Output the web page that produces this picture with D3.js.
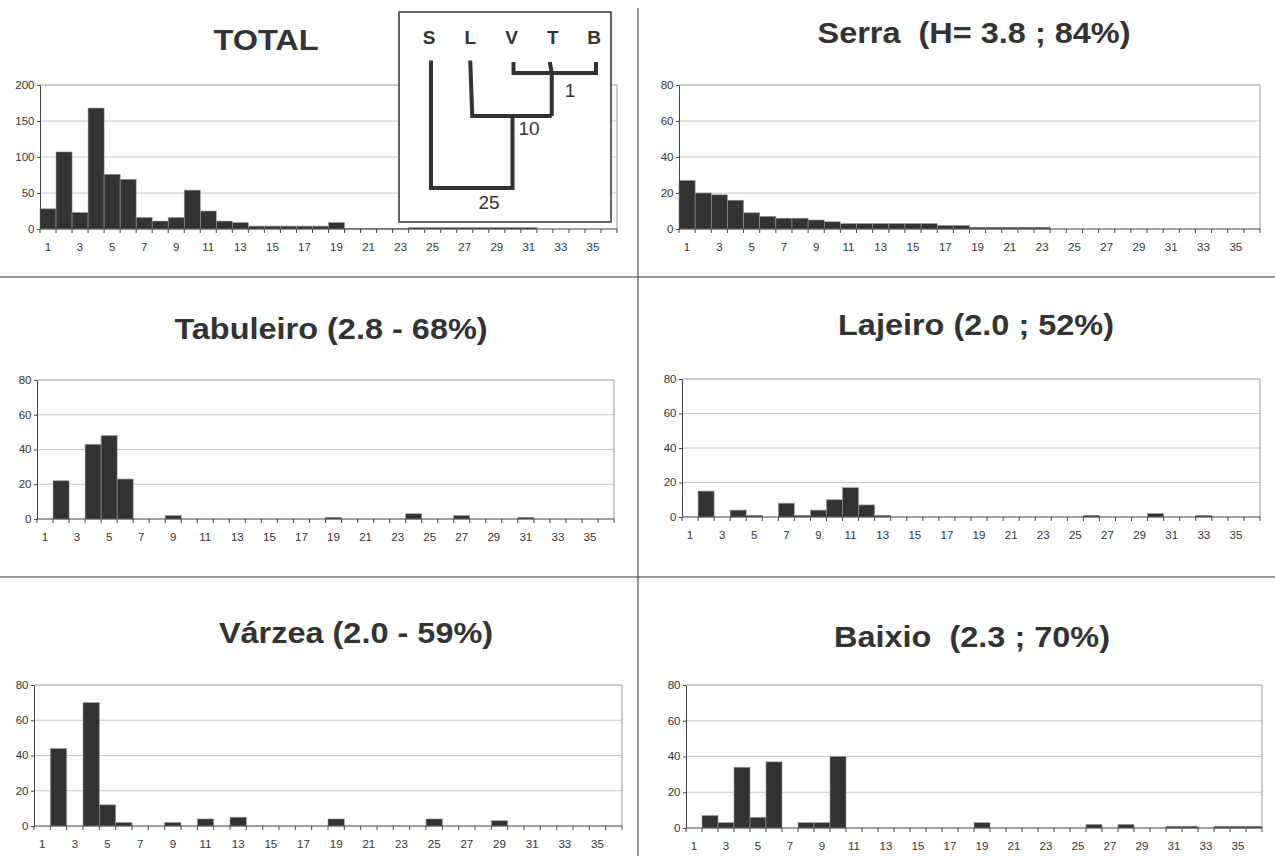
<!DOCTYPE html>
<html>
<head>
<meta charset="utf-8">
<script src="https://cdn.jsdelivr.net/npm/d3@7"></script>
<style>
  body { margin: 0; background: #fff; }
  svg { display: block; }
  text { font-family: "Liberation Sans", Arial, sans-serif; fill: #333; }
</style>
</head>
<body>
<div id="chart"></div>
<script>
// number of classes on the x axis
const classes = [1,2,3,4,5,6,7,8,9,10,11,12,13,14,15,16,17,18,19,20,21,22,23,24,25,26,27,28,29,30,31,32,33,34,35,36];
const xTickLabels = [1,3,5,7,9,11,13,15,17,19,21,23,25,27,29,31,33,35];
const yTicksTotal = [0,50,100,150,200];
const yTicksZone = [0,20,40,60,80];

const total     = [28,107,23,168,76,69,16,11,16,54,25,11,9,4,4,4,4,4,9,1,1,1,1,2,2,2,2,2,2,2,2,0,0,0,0,0];
const serra     = [27,20,19,16,9,7,6,6,5,4,3,3,3,3,3,3,2,2,1,1,1,1,1,0,0,0,0,0,0,0,0,0,0,0,0,0];
const tabuleiro = [0,22,0,43,48,23,0,0,2,0,0,0,0,0,0,0,0,0,1,0,0,0,0,3,0,0,2,0,0,0,1,0,0,0,0,0];
const lajeiro   = [0,15,0,4,1,0,8,1,4,10,17,7,1,0,0,0,0,0,0,0,0,0,0,0,0,1,0,0,0,2,0,0,1,0,0,0];
const varzea    = [0,44,0,70,12,2,0,0,2,0,4,0,5,0,0,0,0,0,4,0,0,0,0,0,4,0,0,0,3,0,0,0,0,0,0,0];
const baixio    = [0,7,3,34,6,37,0,3,3,40,0,0,0,0,0,0,0,0,3,0,0,0,0,0,0,2,0,2,0,0,1,1,0,1,1,1];

// dendrogram of the five zones (inset)
const zones = ['S','L','V','T','B'];
const joinLabels = ['1','10','25'];

const W = 1275, H = 856;
const svg = d3.select('#chart').append('svg').attr('width', W).attr('height', H);

const panels = [
  { title: 'TOTAL', values: total, ticks: yTicksTotal, box: [40, 85, 617, 229], tx: 266, ty: 50 },
  { title: 'Serra  (H= 3.8 ; 84%)', values: serra, ticks: yTicksZone, box: [679, 85, 1260, 229], tx: 974, ty: 43 },
  { title: 'Tabuleiro (2.8 - 68%)', values: tabuleiro, ticks: yTicksZone, box: [37, 380, 614, 519], tx: 331, ty: 339 },
  { title: 'Lajeiro (2.0 ; 52%)', values: lajeiro, ticks: yTicksZone, box: [682, 379, 1260, 517], tx: 976, ty: 335 },
  { title: 'Várzea (2.0 - 59%)', values: varzea, ticks: yTicksZone, box: [34, 685, 622, 826], tx: 356, ty: 643 },
  { title: 'Baixio  (2.3 ; 70%)', values: baixio, ticks: yTicksZone, box: [686, 685, 1262, 828], tx: 972, ty: 647 }
];

panels.forEach(drawPanel);

function drawPanel(p) {
  const [x0, y0, x1, y1] = p.box;
  const g = svg.append('g');

  const x = d3.scaleBand().domain(classes).range([x0, x1]).padding(0);
  const y = d3.scaleLinear().domain([0, p.ticks[p.ticks.length - 1]]).range([y1, y0]);

  // gridlines
  g.selectAll('.grid').data(p.ticks.slice(1, -1)).enter().append('line')
    .attr('x1', x0).attr('x2', x1)
    .attr('y1', d => y(d)).attr('y2', d => y(d))
    .attr('stroke', '#c8c8c8').attr('stroke-width', 1);

  // plot frame (top + right)
  g.append('path')
    .attr('d', `M${x0},${y0}H${x1}V${y1}`)
    .attr('fill', 'none').attr('stroke', '#999').attr('stroke-width', 1);

  // bars
  g.selectAll('.bar').data(p.values).enter().append('rect')
    .attr('x', (d, i) => x(classes[i]))
    .attr('y', d => y(d))
    .attr('width', x.bandwidth())
    .attr('height', d => y1 - y(d))
    .attr('fill', '#333')
    .attr('stroke', '#9a9a9a').attr('stroke-width', 0.6);

  // y axis
  const ya = g.append('g').attr('transform', `translate(${x0},0)`)
    .call(d3.axisLeft(y).tickValues(p.ticks).tickSize(3).tickPadding(2).tickSizeOuter(0));
  ya.select('.domain').attr('stroke', '#444');
  ya.selectAll('.tick line').attr('stroke', '#444');
  ya.selectAll('text').attr('font-size', 10.5).attr('font-family', '"Liberation Sans", Arial, sans-serif')
    .attr('fill', '#333').attr('transform', 'scale(1.1,1)');

  // x axis: line, ticks between classes, labels every second class
  g.append('line').attr('x1', x0).attr('x2', x1).attr('y1', y1).attr('y2', y1)
    .attr('stroke', '#444').attr('stroke-width', 1.2);
  g.selectAll('.xt').data(classes.concat(['end'])).enter().append('line')
    .attr('x1', d => d === 'end' ? x1 : x(d)).attr('x2', d => d === 'end' ? x1 : x(d))
    .attr('y1', y1).attr('y2', y1 + 4)
    .attr('stroke', '#444');
  g.selectAll('.xl').data(xTickLabels).enter().append('text')
    .attr('transform', d => `translate(${x(d) + x.bandwidth() / 2},${y1 + 22}) scale(1.1,1)`)
    .attr('text-anchor', 'middle')
    .attr('font-size', 10.5)
    .text(d => d);

  // title
  svg.append('text')
    .attr('transform', `translate(${p.tx},${p.ty}) scale(1.12,1)`)
    .attr('text-anchor', 'middle')
    .style('white-space', 'pre')
    .attr('font-size', 29).attr('font-weight', 'bold')
    .text(p.title);
}

// separators between the panels
svg.append('line').attr('x1', 638).attr('x2', 638).attr('y1', 8).attr('y2', H).attr('stroke', '#333');
[277, 577].forEach(yy => svg.append('line').attr('x1', 0).attr('x2', W).attr('y1', yy).attr('y2', yy).attr('stroke', '#333'));

// inset with the dendrogram
const inset = svg.append('g');
inset.append('rect').attr('x', 399).attr('y', 12).attr('width', 212).attr('height', 210)
  .attr('fill', '#fff').attr('stroke', '#333').attr('stroke-width', 1.5);

const lx = d3.scalePoint().domain(zones).range([429, 594]);
inset.selectAll('.zl').data(zones).enter().append('text')
  .attr('x', d => lx(d)).attr('y', 44)
  .attr('text-anchor', 'middle').attr('font-size', 19).attr('font-weight', 'bold')
  .text(d => d);

// join heights on the dendrogram (top to bottom)
const hy = d3.scaleLinear().domain([0, 25]).range([62, 188]);
const dline = d3.line();
const segs = [
  // V - B (and T) at level 1
  [[lx('V') + 2, hy(0)], [lx('V') + 2, hy(2.2)], [lx('B') + 2, hy(2.2)], [lx('B') + 2, hy(0)]],
  [[lx('T') - 3, hy(0)], [lx('T') - 1, hy(2.2)]],
  [[lx('T') - 1, hy(2.2)], [lx('T') - 1, hy(10.7)]],
  // L joins at level 10
  [[lx('L'), hy(-0.3)], [lx('L') + 2, hy(10.7)], [lx('T') - 1, hy(10.7)]],
  // S joins at level 25
  [[lx('S') + 2, hy(-0.3)], [lx('S') + 2, hy(25)], [lx('V') + 1, hy(25)], [lx('V') + 1, hy(10.7)]]
];
inset.selectAll('.seg').data(segs).enter().append('path')
  .attr('d', dline).attr('fill', 'none').attr('stroke', '#333').attr('stroke-width', 4);

inset.selectAll('.jl').data(joinLabels).enter().append('text')
  .attr('x', (d, i) => [570, 529, 489][i])
  .attr('y', (d, i) => [97, 135, 209][i])
  .attr('text-anchor', 'middle').attr('font-size', 19)
  .text(d => d);
</script>
</body>
</html>
